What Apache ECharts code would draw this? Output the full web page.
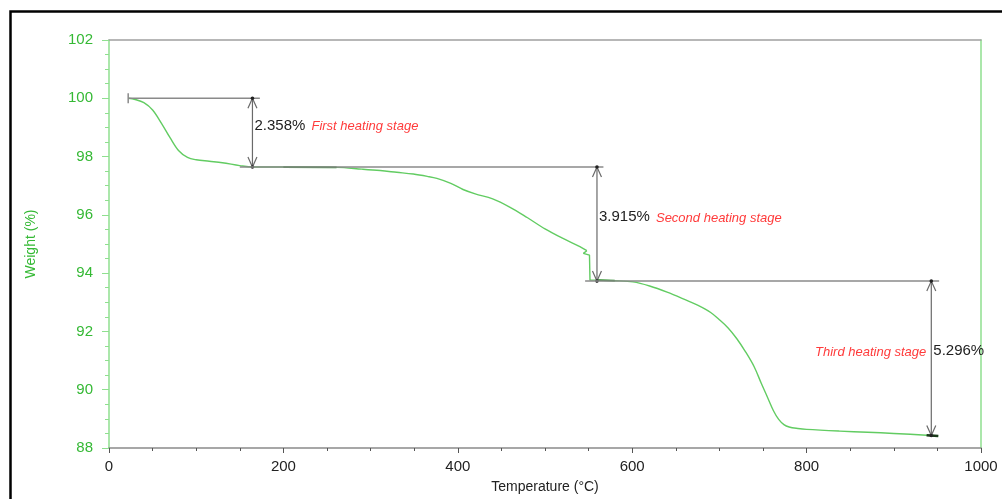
<!DOCTYPE html>
<html>
<head>
<meta charset="utf-8">
<script src="https://cdn.jsdelivr.net/npm/echarts@6/dist/echarts.min.js"></script>
<style>
html,body{margin:0;padding:0;background:#fff;}
#chart{width:1002px;height:499px;}
</style>
</head>
<body>
<div id="chart"></div>
<script>
// ---- data ----
const temperature = [22, 30, 40, 50, 60, 70, 80, 90, 100, 115, 130, 150, 165, 200, 261, 290, 311, 330, 349, 365, 376, 392, 406, 420, 440, 460, 480, 500, 520, 540, 548, 544, 551, 551.6, 560, 580, 601, 620, 640, 660, 675, 690, 700, 710, 720, 730, 740, 748, 755, 762, 768, 774, 780, 790, 800, 838, 870, 900, 937.6, 951];
const weight = [100.0, 99.96, 99.85, 99.60, 99.15, 98.65, 98.20, 97.97, 97.89, 97.84, 97.79, 97.69, 97.64, 97.64, 97.63, 97.57, 97.52, 97.46, 97.40, 97.32, 97.25, 97.08, 96.87, 96.72, 96.55, 96.26, 95.90, 95.52, 95.20, 94.91, 94.77, 94.68, 94.62, 93.76, 93.76, 93.74, 93.70, 93.56, 93.35, 93.10, 92.90, 92.65, 92.40, 92.12, 91.75, 91.30, 90.78, 90.22, 89.75, 89.28, 88.98, 88.80, 88.72, 88.67, 88.64, 88.58, 88.54, 88.50, 88.44, 88.41];
const highlightRanges = [[196, 261], [560, 585], [925, 952]];

const stageT = [164.5, 559.6, 943];
const stageTop = [100.0, 97.642, 93.727];
const stageBottom = [97.642, 93.727, 88.431];
const guideStart = [22, 150, 546];
const guideEnd = [173, 567, 952];
const stageLoss = ['2.358%', '3.915%', '5.296%'];
const stageNames = ['First heating stage', 'Second heating stage', 'Third heating stage'];

const xTicks = [0, 200, 400, 600, 800, 1000];
const yTicks = [88, 90, 92, 94, 96, 98, 100, 102];

// ---- chart ----
const chart = echarts.init(document.getElementById('chart'), null, {renderer: 'canvas'});
const FONT = '"Liberation Sans", Arial, sans-serif';
const GREEN_TXT = '#35b935';
const CURVE = '#62cc62';

const curveData = temperature.map((t, i) => [t, weight[i]]);
// split at the hook so smoothing stays well-behaved
const hookIdx = temperature.indexOf(548);
const curvePartA = curveData.slice(0, hookIdx + 1);
const curvePartB = curveData.slice(hookIdx, temperature.indexOf(560) + 1);
const curvePartC = curveData.slice(temperature.indexOf(560));

const highlightSeries = highlightRanges.map(r => ({
  type: 'line',
  data: curveData.filter(p => p[0] >= r[0] && p[0] <= r[1]),
  showSymbol: false, silent: true,
  lineStyle: {color: r[0] > 900 ? '#1a3a1a' : '#2e8b2e', width: r[0] > 900 ? 2.5 : 1.8},
  z: 4
}));

const annData = stageT.map((t, i) => [t, stageTop[i], stageBottom[i], guideStart[i], guideEnd[i], i]);

function renderAnn(params, api) {
  const i = api.value(5);
  const t = api.value(0);
  const top = api.coord([t, api.value(1)]);
  const bot = api.coord([t, api.value(2)]);
  const gs = api.coord([api.value(3), api.value(1)]);
  const ge = api.coord([api.value(4), api.value(1)]);
  const ax = top[0];
  const lineCol = '#8a8a8a';
  const arrCol = '#6a6a6a';
  const children = [];
  children.push({type: 'line', shape: {x1: gs[0], y1: gs[1], x2: ge[0], y2: ge[1]},
    style: {stroke: lineCol, lineWidth: 1.5}});
  if (i === 0) {
    children.push({type: 'line', shape: {x1: gs[0], y1: gs[1] - 5, x2: gs[0], y2: gs[1] + 5},
      style: {stroke: lineCol, lineWidth: 1.5}});
  }
  children.push({type: 'line', shape: {x1: ax, y1: top[1], x2: ax, y2: bot[1]},
    style: {stroke: arrCol, lineWidth: 1.2}});
  children.push({type: 'polyline', shape: {points: [[ax - 4.5, top[1] + 10], [ax, top[1]], [ax + 4.5, top[1] + 10]]},
    style: {stroke: arrCol, lineWidth: 1.2, fill: null}});
  children.push({type: 'polyline', shape: {points: [[ax - 4.5, bot[1] - 10], [ax, bot[1]], [ax + 4.5, bot[1] - 10]]},
    style: {stroke: arrCol, lineWidth: 1.2, fill: null}});
  children.push({type: 'circle', shape: {cx: ax, cy: top[1], r: 1.8}, style: {fill: '#222'}});
  children.push({type: 'circle', shape: {cx: ax, cy: bot[1], r: 1.8}, style: {fill: '#222'}});
  const ty = (top[1] + bot[1]) / 2 - 7;
  children.push({type: 'text', style: {text: stageLoss[i], x: ax + 2, y: ty,
    fill: '#222', font: '15px ' + FONT, align: 'left', verticalAlign: 'middle'}});
  if (i < 2) {
    children.push({type: 'text', style: {text: stageNames[i], x: ax + 59, y: ty + 1,
      fill: '#ff3b3b', font: 'italic 13px ' + FONT, align: 'left', verticalAlign: 'middle'}});
  } else {
    children.push({type: 'text', style: {text: stageNames[i], x: ax - 5, y: ty + 1,
      fill: '#ff3b3b', font: 'italic 13px ' + FONT, align: 'right', verticalAlign: 'middle'}});
  }
  return {type: 'group', children: children};
}

const curveStyle = {color: CURVE, width: 1.4};
const option = {
  animation: false,
  backgroundColor: '#fff',
  textStyle: {fontFamily: FONT},
  graphic: [{
    type: 'rect', left: 8, top: 9, silent: true,
    shape: {width: 1200, height: 700},
    style: {fill: null, stroke: '#000', lineWidth: 2.5}
  }],
  grid: {left: 109, right: 21, top: 40, bottom: 51, containLabel: false},
  xAxis: [{
    type: 'value', min: xTicks[0], max: xTicks[xTicks.length - 1], interval: xTicks[1] - xTicks[0],
    name: 'Temperature (°C)', nameLocation: 'middle', nameGap: 32,
    nameTextStyle: {color: '#222', fontSize: 14, fontFamily: FONT},
    axisLine: {lineStyle: {color: '#8a8a8a', width: 1.5}},
    axisTick: {show: true, length: 5, lineStyle: {color: '#555'}},
    minorTick: {show: true, splitNumber: 4, length: 3, lineStyle: {color: '#555'}},
    axisLabel: {color: '#222', fontSize: 15, margin: 11, fontFamily: FONT, formatter: v => String(v)},
    splitLine: {show: false}
  }, {
    type: 'value', position: 'top', min: 0, max: 1000,
    axisLine: {show: true, onZero: false, lineStyle: {color: '#a0a0a0', width: 1.5}},
    axisTick: {show: false}, axisLabel: {show: false}, splitLine: {show: false}
  }],
  yAxis: [{
    type: 'value', min: yTicks[0], max: yTicks[yTicks.length - 1], interval: yTicks[1] - yTicks[0],
    name: 'Weight (%)', nameLocation: 'middle', nameGap: 71,
    nameTextStyle: {color: GREEN_TXT, fontSize: 14, fontFamily: FONT},
    axisLine: {show: true, lineStyle: {color: '#8fdf8f', width: 1.5}},
    axisTick: {show: true, length: 7, lineStyle: {color: '#8fdf8f'}},
    minorTick: {show: true, splitNumber: 4, length: 4, lineStyle: {color: '#8fdf8f'}},
    axisLabel: {color: GREEN_TXT, fontSize: 15, margin: 16, fontFamily: FONT},
    splitLine: {show: false}
  }, {
    type: 'value', position: 'right', min: 88, max: 102,
    axisLine: {show: true, onZero: false, lineStyle: {color: '#8fdf8f', width: 1.5}},
    axisTick: {show: false}, axisLabel: {show: false}, splitLine: {show: false}
  }],
  series: [
    {type: 'line', data: curvePartA, showSymbol: false, silent: true, lineStyle: curveStyle, smooth: 0.35, z: 3},
    {type: 'line', data: curvePartB, showSymbol: false, silent: true, lineStyle: curveStyle, smooth: false, z: 3},
    {type: 'line', data: curvePartC, showSymbol: false, silent: true, lineStyle: curveStyle, smooth: 0.35, z: 3}
  ].concat(highlightSeries).concat([{
    type: 'custom', renderItem: renderAnn, data: annData, silent: true, z: 5,
    encode: {x: [0, 3, 4], y: [1, 2]}
  }])
};
chart.setOption(option);
</script>
</body>
</html>
